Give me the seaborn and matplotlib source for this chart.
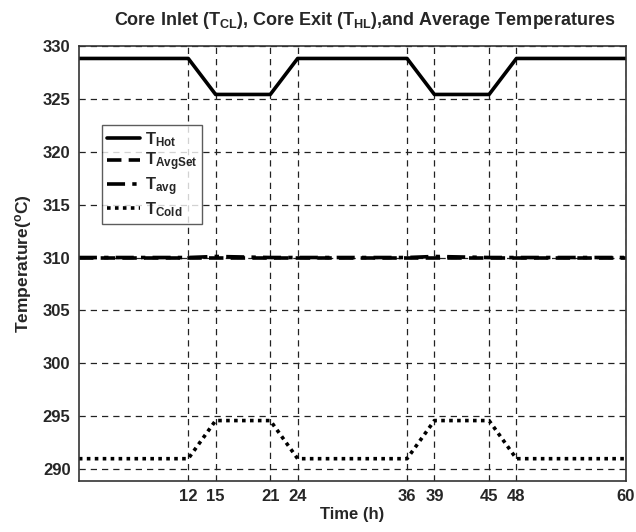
import matplotlib
matplotlib.use("Agg")
import matplotlib.pyplot as plt
import seaborn as sns
import pandas as pd

# Time breakpoints (h) of the load-follow cycle
time_h = [0, 12, 15, 21, 24, 36, 39, 45, 48, 60]

# Temperatures (°C) at each breakpoint
t_hot = [328.8, 328.8, 325.4, 325.4, 328.8, 328.8, 325.4, 325.4, 328.8, 328.8]
t_avgset = [310.0, 310.0, 310.0, 310.0, 310.0, 310.0, 310.0, 310.0, 310.0, 310.0]
t_avg = [310.0, 310.0, 310.1, 310.0, 310.0, 310.0, 310.1, 310.0, 310.0, 310.0]
t_cold = [291.0, 291.0, 294.6, 294.6, 291.0, 291.0, 294.6, 294.6, 291.0, 291.0]

x_ticks = [12, 15, 21, 24, 36, 39, 45, 48, 60]
y_ticks = [290, 295, 300, 305, 310, 315, 320, 325, 330]

sns.set_theme(style="white")
plt.rcParams["font.family"] = ["Liberation Sans", "DejaVu Sans"]
plt.rcParams["font.weight"] = "bold"
plt.rcParams["mathtext.fontset"] = "custom"
plt.rcParams["mathtext.rm"] = "Liberation Sans:bold"
plt.rcParams["mathtext.it"] = "Liberation Sans:bold"
plt.rcParams["mathtext.bf"] = "Liberation Sans:bold"
plt.rcParams["mathtext.default"] = "rm"

fig = plt.figure(figsize=(6.36, 5.32), dpi=100)
ax = fig.add_axes([0.124, 0.096, 0.86, 0.818])

series = [
    (r"T$_{\mathrm{Hot}}$", t_hot, "-", 2.6),
    (r"T$_{\mathrm{AvgSet}}$", t_avgset, (0, (4, 2)), 2.6),
    (r"T$_{\mathrm{avg}}$", t_avg, (0, (5, 2, 1.2, 2)), 2.6),
    (r"T$_{\mathrm{Cold}}$", t_cold, (0, (1, 1.2)), 2.6),
]

for name, vals, ls, lw in series:
    df = pd.DataFrame({"time": time_h, "temp": vals})
    sns.lineplot(data=df, x="time", y="temp", ax=ax, color="black",
                 linestyle=ls, linewidth=lw, label=name)

ax.set_xlim(0, 60)
ax.set_ylim(288.9, 330)
ax.set_xticks(x_ticks)
ax.set_yticks(y_ticks)
ax.tick_params(axis="both", labelsize=12, length=0, pad=6)
for lab in ax.get_xticklabels() + ax.get_yticklabels():
    lab.set_fontweight("bold")

ax.grid(True, color="#222222", linestyle=(0, (5, 4)), linewidth=0.9)
for s in ax.spines.values():
    s.set_visible(True)
    s.set_color("#333333")
    s.set_linewidth(1.2)

ax.set_xlabel("Time (h)", fontsize=12, fontweight="bold", labelpad=2)
ax.set_ylabel(r"Temperature($^{\mathrm{o}}$C)", fontsize=12.5, fontweight="bold", labelpad=6)
ax.set_title(r"Core Inlet (T$_{\mathrm{CL}}$), Core Exit (T$_{\mathrm{HL}}$),and Average Temperatures",
             fontsize=13, fontweight="bold", pad=15, x=0.522)

leg = ax.legend(loc="upper left", bbox_to_anchor=(0.042, 0.818), frameon=True,
                fancybox=False, edgecolor="#333333", fontsize=12,
                handlelength=2.0, borderpad=0.3, labelspacing=0.12,
                handletextpad=0.3, borderaxespad=0.0)
leg.get_frame().set_linewidth(1.0)
for t in leg.get_texts():
    t.set_fontweight("bold")

fig.savefig("out.png", dpi=100)
